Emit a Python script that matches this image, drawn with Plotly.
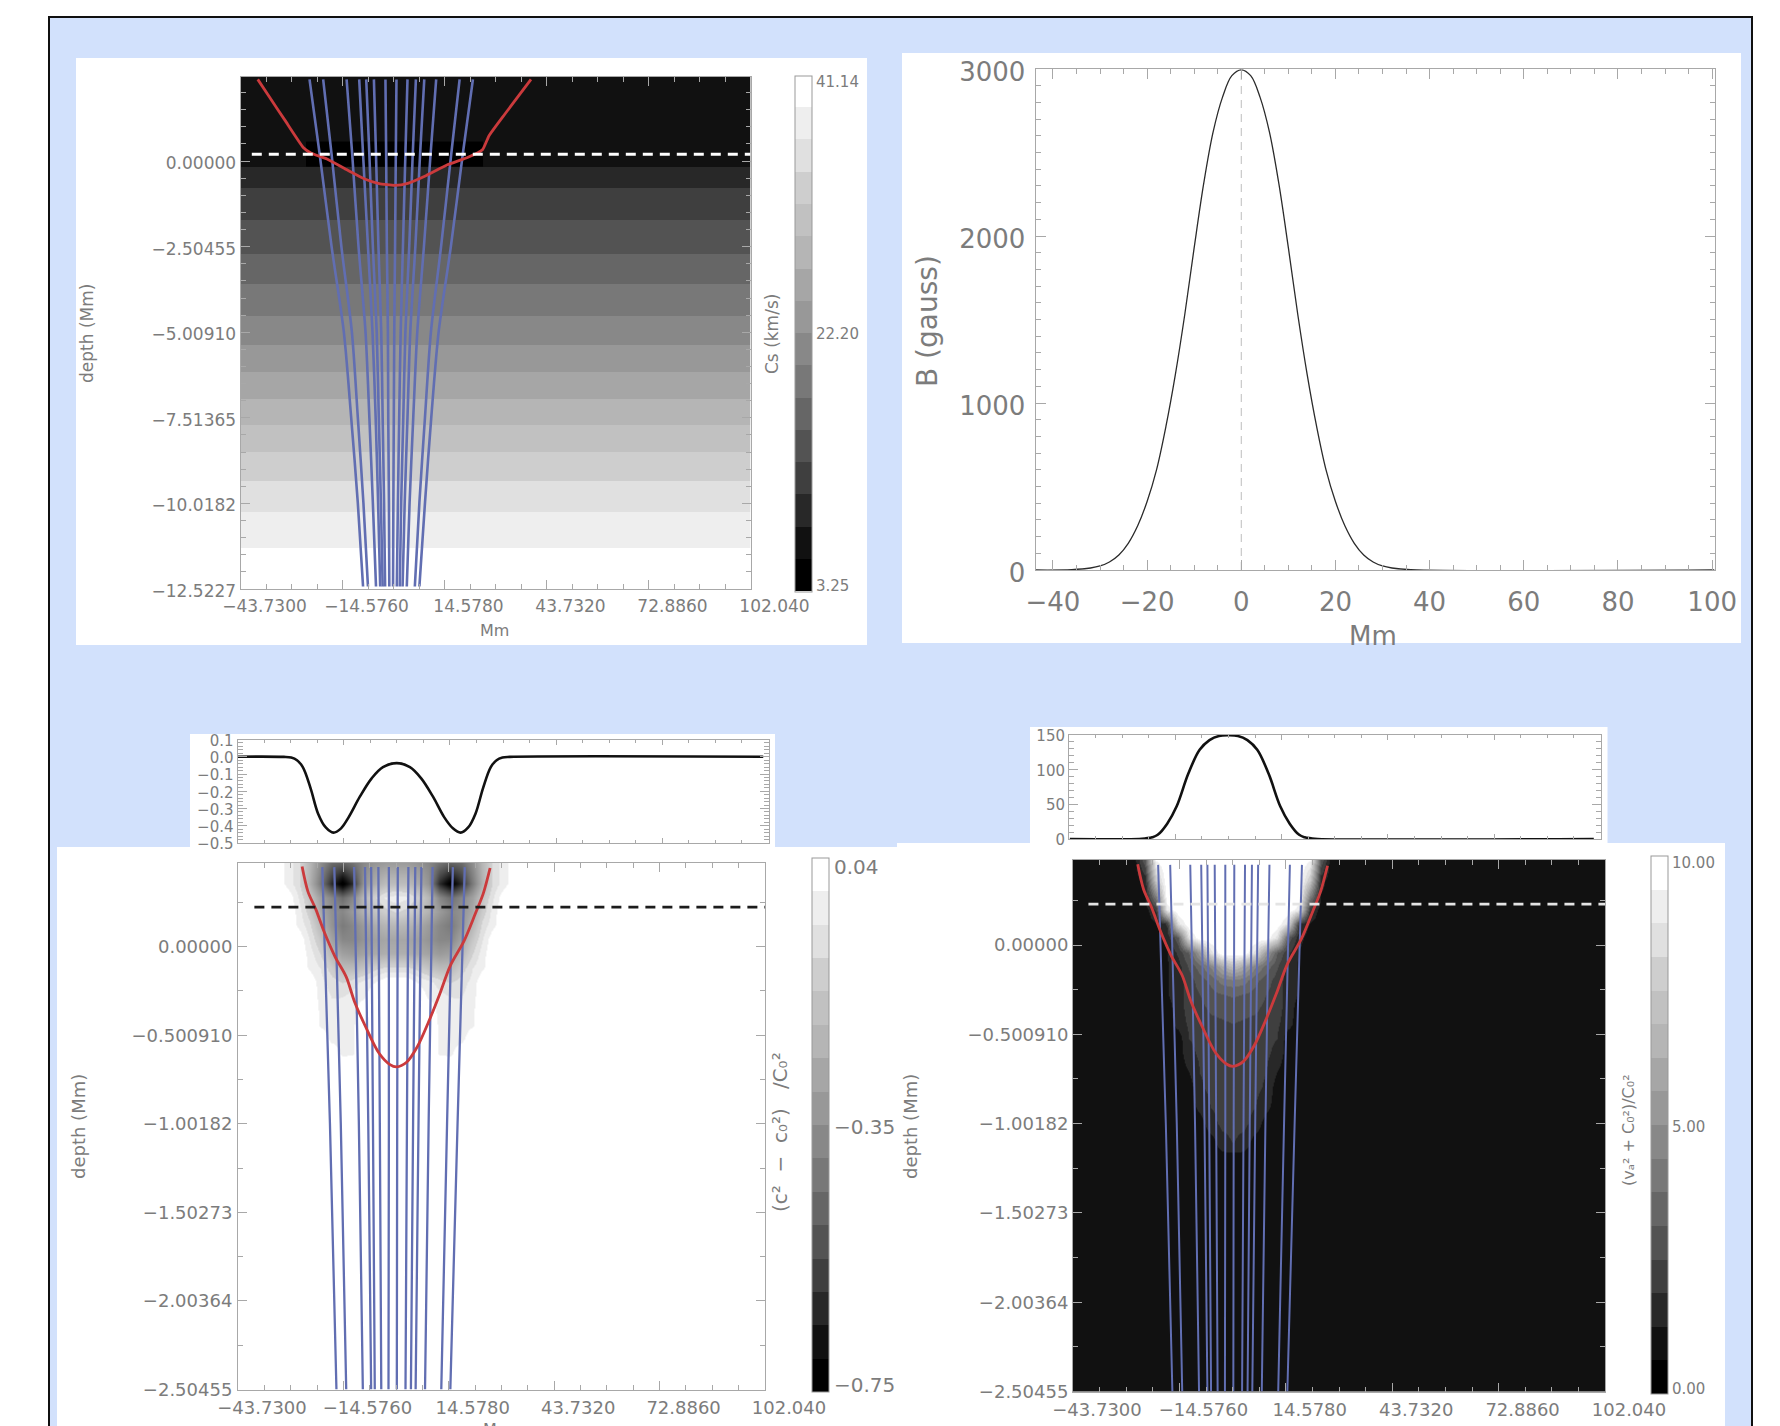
import plotly.graph_objects as go

W, H = 1780, 1426
FONT = "DejaVu Sans"
GRAY = "#7c7c7c"
AXC = "#a8a8a8"
BLUE = "#616eb2"
RED = "#cb3a3c"

# ---------------- shared tick labels
x_ticks = [-43.73, -14.576, 14.578, 43.732, 72.886, 102.04]
x_text = ["−43.7300", "−14.5760", "14.5780", "43.7320", "72.8860", "102.040"]

# ---------------- panel A: sound speed by depth
a_y_ticks = [0.0, -2.50455, -5.0091, -7.51365, -10.0182, -12.5227]
a_y_text = ["0.00000", "−2.50455", "−5.00910", "−7.51365", "−10.0182", "−12.5227"]
a_depth_edges = [2.46, -0.17, -0.80, -1.73, -2.71, -3.61, -4.52, -5.37, -6.18, -6.96, -7.72, -8.50, -9.35, -10.28, -11.32, -12.5227]
a_cs = [6.8, 9.2, 11.5, 13.9, 16.3, 18.7, 21.0, 23.4, 25.8, 28.1, 30.5, 32.9, 35.2, 37.6, 40.0]
a_x_edges = [-43.73, 102.04]
a_bump_x = [-25.0, 25.5]
a_bump_y = [-0.17, 0.57]
a_bump_cs = [[4.4]]
a_blue_depth = [2.39, 0.2, -2.5, -5.0, -7.5, -10.0, -12.45]
a_blue = [
    [-24.0, -21.1, -17.7, -14.2, -12.1, -10.2, -8.7],
    [-20.1, -17.7, -14.9, -11.9, -10.2, -8.6, -7.3],
    [-13.4, -11.8, -10.0, -8.0, -6.9, -5.9, -5.0],
    [-9.8, -8.7, -7.3, -6.0, -5.1, -4.4, -3.8],
    [-7.8, -6.9, -5.9, -4.8, -4.2, -3.6, -3.1],
    [-5.6, -5.0, -4.3, -3.5, -3.1, -2.7, -2.4],
    [-2.3, -2.1, -1.9, -1.6, -1.5, -1.3, -1.2],
    [0.85, 0.66, 0.45, 0.22, 0.09, -0.04, -0.13],
    [4.0, 3.4, 2.7, 2.05, 1.63, 1.26, 0.95],
    [6.4, 5.5, 4.5, 3.4, 2.8, 2.2, 1.8],
    [8.8, 7.6, 6.25, 4.8, 4.0, 3.2, 2.6],
    [12.2, 10.6, 8.7, 6.8, 5.65, 4.6, 3.8],
    [18.9, 16.5, 13.6, 10.7, 9.0, 7.4, 6.1],
    [22.7, 19.8, 16.4, 12.9, 10.8, 9.0, 7.4],
]
a_red_x = [-38.8, -35.5, -31.0, -25.8, -23.5, -19.0, -13.8, -8.6, -4.1, 0.4, 4.1, 9.4, 15.4, 21.3, 25.5, 27.3, 31.8, 39.3]
a_red_y = [2.39, 1.88, 1.19, 0.40, 0.23, 0.06, -0.23, -0.51, -0.66, -0.71, -0.65, -0.42, -0.11, 0.11, 0.34, 0.74, 1.37, 2.39]
a_dash_x = [-40.5, 102.04]
a_dash_y = [0.2, 0.2]

# ---------------- panel B: field profile
b_x = [-43.7, -36, -32, -30, -28, -26, -24, -22, -20, -18, -16, -14, -12, -10, -8, -6, -4, -2, 0,
       2, 4, 6, 8, 10, 12, 14, 16, 18, 20, 22, 24, 26, 28, 30, 32, 36, 100.5]
b_y = [0, 2, 12, 24, 48, 90, 160, 265, 410, 600, 860, 1170, 1530, 1930, 2310, 2620, 2830, 2960, 2995,
       2960, 2830, 2620, 2310, 1930, 1530, 1170, 860, 600, 410, 265, 160, 90, 48, 24, 12, 2, 0]

# ---------------- panels C and D: shared curves
cd_y_ticks = [0.0, -0.50091, -1.00182, -1.50273, -2.00364, -2.50455]
cd_y_text = ["0.00000", "−0.500910", "−1.00182", "−1.50273", "−2.00364", "−2.50455"]
cd_blue_depth = [0.45, -1.0, -2.50455]
cd_blue = [
    [-20.4, -18.3, -16.5], [-17.1, -15.3, -13.8], [-11.6, -10.3, -9.2], [-8.6, -7.7, -6.9],
    [-6.9, -6.4, -5.9], [-4.9, -4.5, -4.1], [-2.0, -2.0, -2.1], [0.47, 0.3, 0.2],
    [3.4, 3.0, 2.6], [5.3, 4.7, 4.1], [7.0, 6.2, 5.4], [10.1, 9.0, 8.0],
    [15.7, 14.1, 12.5], [19.0, 17.0, 15.0],
]
cd_red_x = [-26.0, -24.4, -22.2, -19.9, -16.9, -13.8, -11.5, -8.5, -4.7, -1.7, 0.15, 2.9, 5.9, 9.0, 12.0, 15.0, 18.8, 21.9, 24.1, 26.0]
cd_red_y = [0.453, 0.313, 0.211, 0.084, -0.056, -0.171, -0.311, -0.45, -0.603, -0.667, -0.68, -0.654, -0.565, -0.425, -0.272, -0.107, 0.033, 0.186, 0.30, 0.445]

# panel C image: left half of each row, |x| falling from 33 to 0
c_half_x = [-33, -30, -27, -24, -21, -18, -15, -12, -9, -6, -3, 0]
c_depth = [0.476, 0.36, 0.28, 0.20, 0.12, 0.04, -0.04, -0.12, -0.20, -0.28, -0.36, -0.44, -0.52, -0.60, -0.68]
c_half = [
    [0.04, -0.03, -0.09, -0.22, -0.36, -0.46, -0.48, -0.44, -0.38, -0.34, -0.32, -0.32],
    [0.04, -0.03, -0.09, -0.24, -0.42, -0.62, -0.75, -0.62, -0.34, -0.26, -0.20, -0.20],
    [0.04, 0.04, -0.06, -0.17, -0.30, -0.38, -0.46, -0.38, -0.22, -0.12, -0.05, -0.03],
    [0.04, 0.04, -0.03, -0.14, -0.27, -0.35, -0.38, -0.32, -0.24, -0.18, -0.13, -0.10],
    [0.04, 0.04, -0.02, -0.09, -0.22, -0.34, -0.42, -0.38, -0.32, -0.26, -0.23, -0.22],
    [0.04, 0.04, 0.04, -0.06, -0.16, -0.29, -0.38, -0.38, -0.34, -0.30, -0.28, -0.28],
    [0.04, 0.04, 0.04, -0.03, -0.11, -0.22, -0.30, -0.32, -0.29, -0.27, -0.25, -0.25],
    [0.04, 0.04, 0.04, -0.02, -0.06, -0.14, -0.21, -0.21, -0.18, -0.13, -0.10, -0.10],
    [0.04, 0.04, 0.04, 0.04, -0.04, -0.08, -0.11, -0.08, -0.04, -0.01, 0.04, 0.04],
    [0.04, 0.04, 0.04, 0.04, -0.03, -0.06, -0.06, -0.04, -0.02, 0.04, 0.04, 0.04],
    [0.04, 0.04, 0.04, 0.04, -0.02, -0.05, -0.04, -0.03, 0.04, 0.04, 0.04, 0.04],
    [0.04, 0.04, 0.04, 0.04, -0.02, -0.04, -0.04, -0.02, 0.04, 0.04, 0.04, 0.04],
    [0.04, 0.04, 0.04, 0.04, 0.04, -0.03, -0.03, -0.02, 0.04, 0.04, 0.04, 0.04],
    [0.04, 0.04, 0.04, 0.04, 0.04, 0.04, -0.025, -0.02, 0.04, 0.04, 0.04, 0.04],
    [0.04, 0.04, 0.04, 0.04, 0.04, 0.04, 0.04, 0.04, 0.04, 0.04, 0.04, 0.04],
]
c_top_x = [-43.7, -31.0, -29.0, -27.4, -25.8, -23.7, -21.6, -19.5, -17.4, -15.3, -13.2, -10.1, -6.9, -3.8, 0.0,
           3.6, 6.7, 9.9, 13.0, 15.4, 17.5, 19.6, 21.6, 23.7, 25.8, 27.4, 29.0, 31.0, 100.6]
c_top_y = [0.0, -0.001, -0.005, -0.02, -0.06, -0.18, -0.33, -0.41, -0.44, -0.415, -0.35, -0.23, -0.125, -0.06, -0.037,
           -0.06, -0.125, -0.23, -0.35, -0.415, -0.44, -0.41, -0.33, -0.18, -0.06, -0.02, -0.005, -0.001, 0.0]

# panel D image
d_half_x = [-33, -30, -27, -24, -21, -18, -15, -12, -9, -6, -3, 0]
d_depth = [0.48, 0.36, 0.28, 0.20, 0.12, 0.04, -0.04, -0.12, -0.20, -0.28, -0.36, -0.44, -0.52, -0.60, -0.70, -0.80, -0.90, -1.00, -1.10, -1.20]
d_half = [
    [0.9, 0.9, 0.9, 3.0, 9.5, 10, 10, 10, 10, 10, 10, 10],
    [0.9, 0.9, 0.9, 1.5, 7.5, 10, 10, 10, 10, 10, 10, 10],
    [0.9, 0.9, 0.9, 1.2, 4.5, 10, 10, 10, 10, 10, 10, 10],
    [0.9, 0.9, 0.9, 0.9, 2.0, 9.0, 10, 10, 10, 10, 10, 10],
    [0.9, 0.9, 0.9, 0.9, 1.2, 2.0, 8.5, 10, 10, 10, 10, 10],
    [0.9, 0.9, 0.9, 0.9, 0.9, 1.5, 3.0, 8.5, 10, 10, 10, 10],
    [0.9, 0.9, 0.9, 0.9, 0.9, 1.2, 2.0, 3.2, 5.5, 8.5, 10, 10],
    [0.9, 0.9, 0.9, 0.9, 0.9, 1.2, 1.6, 2.6, 3.5, 4.5, 6.0, 7.0],
    [0.9, 0.9, 0.9, 0.9, 0.9, 1.2, 1.6, 2.2, 2.8, 3.3, 4.0, 4.2],
    [0.9, 0.9, 0.9, 0.9, 0.9, 1.2, 1.6, 2.2, 2.5, 2.9, 3.1, 3.2],
    [0.9, 0.9, 0.9, 0.9, 0.9, 0.9, 1.6, 2.1, 2.3, 2.6, 2.7, 2.8],
    [0.9, 0.9, 0.9, 0.9, 0.9, 0.9, 1.5, 2.0, 2.2, 2.3, 2.4, 2.5],
    [0.9, 0.9, 0.9, 0.9, 0.9, 0.9, 0.9, 1.9, 2.0, 2.1, 2.2, 2.3],
    [0.9, 0.9, 0.9, 0.9, 0.9, 0.9, 0.9, 1.7, 2.0, 2.1, 2.1, 2.2],
    [0.9, 0.9, 0.9, 0.9, 0.9, 0.9, 0.9, 1.3, 1.9, 2.0, 2.1, 2.1],
    [0.9, 0.9, 0.9, 0.9, 0.9, 0.9, 0.9, 0.9, 1.8, 2.0, 2.0, 2.1],
    [0.9, 0.9, 0.9, 0.9, 0.9, 0.9, 0.9, 0.9, 1.5, 1.9, 2.0, 2.0],
    [0.9, 0.9, 0.9, 0.9, 0.9, 0.9, 0.9, 0.9, 0.9, 1.7, 2.0, 2.0],
    [0.9, 0.9, 0.9, 0.9, 0.9, 0.9, 0.9, 0.9, 0.9, 0.9, 1.7, 1.9],
    [0.9, 0.9, 0.9, 0.9, 0.9, 0.9, 0.9, 0.9, 0.9, 0.9, 0.9, 0.9],
]
d_top_x = [-43.5, -24.5, -22.6, -20.9, -19.4, -16.8, -14.2, -11.0, -7.9, -5.2, -2.6, 0.0, 2.6, 5.2, 7.9, 11.0, 14.2, 16.8, 19.4, 20.9, 22.6, 24.5, 100.2]
d_top_y = [0, 0, 1, 2.5, 6, 22, 47, 94, 128, 142, 148, 149, 148, 142, 128, 94, 47, 22, 6, 2.5, 1, 0, 0]

bar_a_vals = [3.65, 22.2, 40.7]
bar_a_text = ["3.25", "22.20", "41.14"]
bar_c_vals = [-0.74, -0.358, 0.0267]
bar_c_text = ["−0.75", "−0.35", "0.04"]
bar_d_vals = [0.1, 4.97, 9.87]
bar_d_text = ["0.00", "5.00", "10.00"]

gray_ramp = [0, 17, 40, 63, 83, 102, 120, 136, 152, 166, 181, 193, 206, 224, 238, 255]


# ---------------- helpers
def px(x):
    return x / W


def py(y):
    return 1 - y / H


def mirrored(rows):
    return [r + r[-2::-1] for r in rows]


def full_x(half):
    return half + [-v for v in half[-2::-1]]


def gray(g):
    return f"rgb({g},{g},{g})"


LEVELS = len(gray_ramp)
steps = []
for i, g in enumerate(gray_ramp):
    steps += [[i / LEVELS, gray(g)], [(i + 1) / LEVELS, gray(g)]]
# blended through the dark levels, stepped through the three lightest
blend = [[(i + 0.5) / LEVELS, gray(g)] for i, g in enumerate(gray_ramp[:13])]
blend = [[0, gray(0)]] + blend + [[13 / LEVELS, gray(206)]]
for i, g in zip((13, 14, 15), gray_ramp[13:]):
    blend += [[i / LEVELS, gray(g)], [(i + 1) / LEVELS, gray(g)]]


def axis(box, anchor, rng, size, **kw):
    horizontal = anchor.startswith("y")
    dom = [px(box[0]), px(box[2])] if horizontal else [py(box[3]), py(box[1])]
    d = dict(domain=dom, anchor=anchor, range=rng, showgrid=False, zeroline=False,
             showline=True, linecolor=AXC, linewidth=1, mirror="allticks",
             ticks="inside", tickcolor=AXC, ticklen=9, tickwidth=1,
             tickfont=dict(family=FONT, size=size, color=GRAY))
    d.update(kw)
    return d


def minor(tick0, dtick, ln=5):
    return dict(ticks="inside", ticklen=ln, tickcolor=AXC, tickwidth=1, tick0=tick0, dtick=dtick, showgrid=False)


def note(text, x, y, size, angle=0):
    return dict(text=text, xref="paper", yref="paper", x=px(x), y=py(y), showarrow=False,
                xanchor="center", yanchor="middle", textangle=angle,
                font=dict(family=FONT, size=size, color=GRAY))


def rect(x0, y0, x1, y1, fill, line=None, lw=0):
    return dict(type="rect", xref="paper", yref="paper", layer="below",
                x0=px(x0), x1=px(x1), y0=py(y1), y1=py(y0), fillcolor=fill,
                line=dict(color=line or fill, width=lw))


def cbar(x0, y0, x1, y1, vals, text, size):
    return dict(x=px(x0), xref="paper", xanchor="left", xpad=0, y=py(y1), yref="paper", yanchor="bottom", ypad=0,
                thicknessmode="pixels", thickness=x1 - x0, lenmode="pixels", len=y1 - y0,
                tickmode="array", tickvals=vals, ticktext=text, ticks="",
                tickfont=dict(family=FONT, size=size, color=GRAY),
                outlinecolor="#999999", outlinewidth=1)


def add_lines(fig, xs, y, ax, width):
    for line in xs:
        fig.add_trace(go.Scatter(x=line, y=y, mode="lines", xaxis=ax[0], yaxis=ax[1], showlegend=False,
                                 hoverinfo="skip", line=dict(color=BLUE, width=width, shape="spline", smoothing=0.8)))


def add_red(fig, x, y, ax, smoothing):
    fig.add_trace(go.Scatter(x=x, y=y, mode="lines", xaxis=ax[0], yaxis=ax[1], showlegend=False,
                             hoverinfo="skip", line=dict(color=RED, width=2.8, shape="spline", smoothing=smoothing)))


def add_dash(fig, x, y, ax, color):
    fig.add_trace(go.Scatter(x=x, y=y, mode="lines", xaxis=ax[0], yaxis=ax[1], showlegend=False,
                             hoverinfo="skip", line=dict(color=color, width=2.8, dash="10px,7px")))


fig = go.Figure()

# panel A
fig.add_trace(go.Heatmap(x=a_x_edges, y=a_depth_edges, z=[[v] for v in a_cs], zmin=3.25, zmax=41.14,
                         colorscale=steps, xaxis="x", yaxis="y", hoverinfo="skip",
                         colorbar=cbar(795, 75.5, 812, 591.5, bar_a_vals, bar_a_text, 15)))
fig.add_trace(go.Heatmap(x=a_bump_x, y=a_bump_y, z=a_bump_cs, zmin=3.25, zmax=41.14, colorscale=steps,
                         xaxis="x", yaxis="y", showscale=False, hoverinfo="skip"))
add_lines(fig, a_blue, a_blue_depth, ("x", "y"), 2.6)
add_red(fig, a_red_x, a_red_y, ("x", "y"), 0.4)
add_dash(fig, a_dash_x, a_dash_y, ("x", "y"), "#ffffff")

# panel B
fig.add_trace(go.Scatter(x=b_x, y=b_y, mode="lines", xaxis="x2", yaxis="y2", showlegend=False, hoverinfo="skip",
                         line=dict(color="#2b2b2b", width=1.3, shape="spline", smoothing=1.0)))
fig.add_trace(go.Scatter(x=[0, 0], y=[0, 3000], mode="lines", xaxis="x2", yaxis="y2", showlegend=False,
                         hoverinfo="skip", line=dict(color="#bdbdbd", width=1, dash="8px,6px")))

# panel C: the image blends softly, its colour bar shows the stepped table
fig.add_trace(go.Heatmap(x=full_x(c_half_x), y=c_depth, z=mirrored(c_half), zmin=-0.75, zmax=0.04,
                         colorscale=blend, zsmooth="best", xaxis="x3", yaxis="y3", hoverinfo="skip", showscale=False))
fig.add_trace(go.Scatter(x=[None], y=[None], mode="markers", xaxis="x3", yaxis="y3", showlegend=False, hoverinfo="skip",
                         marker=dict(color=[0.04], cmin=-0.75, cmax=0.04, colorscale=steps, showscale=True,
                                     colorbar=cbar(811.5, 858.5, 828, 1392, bar_c_vals, bar_c_text, 20))))
add_lines(fig, cd_blue, cd_blue_depth, ("x3", "y3"), 2.3)
add_red(fig, cd_red_x, cd_red_y, ("x3", "y3"), 0.9)
add_dash(fig, [-39.2, 102.04], [0.224, 0.224], ("x3", "y3"), "#1c1c1c")

# panel C top
fig.add_trace(go.Scatter(x=c_top_x, y=c_top_y, mode="lines", xaxis="x4", yaxis="y4", showlegend=False,
                         hoverinfo="skip", line=dict(color="#111111", width=2.6, shape="spline", smoothing=1.0)))

# panel D
fig.add_trace(go.Heatmap(x=full_x(d_half_x), y=d_depth, z=mirrored(d_half), zmin=0, zmax=10,
                         colorscale=steps, zsmooth="best", xaxis="x5", yaxis="y5", hoverinfo="skip",
                         colorbar=cbar(1651, 856, 1668, 1394, bar_d_vals, bar_d_text, 15)))
add_lines(fig, cd_blue, cd_blue_depth, ("x5", "y5"), 2.0)
add_red(fig, cd_red_x, cd_red_y, ("x5", "y5"), 0.9)
add_dash(fig, [-39.5, 102.04], [0.23, 0.23], ("x5", "y5"), "#e4e4e4")

# panel D top
fig.add_trace(go.Scatter(x=d_top_x, y=d_top_y, mode="lines", xaxis="x6", yaxis="y6", showlegend=False,
                         hoverinfo="skip", line=dict(color="#111111", width=2.6, shape="spline", smoothing=1.0)))

X_RANGE = [-43.73, 102.04]
xcommon = dict(tickmode="array", tickvals=x_ticks, ticktext=x_text, minor=minor(-43.73, 7.2885), ticklabelshift=24,
               ticklabelstandoff=2)

layout = dict(
    width=W, height=H, autosize=False, margin=dict(l=0, r=0, t=0, b=0, pad=0, autoexpand=False),
    paper_bgcolor="#ffffff", plot_bgcolor="rgba(0,0,0,0)", showlegend=False,
    xaxis=axis((240.5, 77, 750.5, 589), "y", X_RANGE, 17, **xcommon),
    yaxis=axis((240.5, 77, 750.5, 589), "x", [-12.5227, 2.46], 17, tickmode="array",
               tickvals=a_y_ticks, ticktext=a_y_text, minor=minor(0, 0.50091), ticklabelshift=2),
    xaxis2=axis((1035.5, 69, 1714.5, 570), "y2", [-43.7, 100.5], 26, tickmode="array",
                tickvals=[-40, -20, 0, 20, 40, 60, 80, 100],
                ticktext=["−40", "−20", "0", "20", "40", "60", "80", "100"], minor=minor(0, 5), ticklen=10,
                ticklabelstandoff=9),
    yaxis2=axis((1035.5, 69, 1714.5, 570), "x2", [0, 3000], 26, tickmode="array",
                tickvals=[0, 1000, 2000, 3000], ticktext=["0", "1000", "2000", "3000"],
                minor=minor(0, 100), ticklen=10, ticklabelshift=3, ticklabelstandoff=4),
    xaxis3=axis((238, 862.5, 765, 1389.5), "y3", X_RANGE, 18, **xcommon),
    yaxis3=axis((238, 862.5, 765, 1389.5), "x3", [-2.50455, 0.476], 18, tickmode="array",
                tickvals=cd_y_ticks, ticktext=cd_y_text, minor=minor(0, 0.250455), ticklabelstandoff=1),
    xaxis4=dict(axis((237.5, 739.5, 768.5, 843), "y4", X_RANGE, 15, tickmode="array", tickvals=x_ticks,
                     showticklabels=False, minor=minor(-43.73, 7.2885, 3), ticklen=5)),
    yaxis4=axis((237.5, 739.5, 768.5, 843), "x4", [-0.5, 0.1], 15, tickmode="array",
                tickvals=[0.1, 0.0, -0.1, -0.2, -0.3, -0.4, -0.5],
                ticktext=["0.1", "0.0", "−0.1", "−0.2", "−0.3", "−0.4", "−0.5"],
                minor=minor(0, 0.02, 5), ticklen=9, ticklabelshift=1),
    xaxis5=axis((1073, 859.5, 1605, 1391.5), "y5", X_RANGE, 18, **xcommon),
    yaxis5=axis((1073, 859.5, 1605, 1391.5), "x5", [-2.50455, 0.48], 18, tickmode="array",
                tickvals=cd_y_ticks, ticktext=cd_y_text, minor=minor(0, 0.250455)),
    xaxis6=axis((1069, 734.5, 1600.5, 839), "y6", X_RANGE, 15, tickmode="array", tickvals=x_ticks,
                showticklabels=False, minor=minor(-43.73, 7.2885, 3), ticklen=5),
    yaxis6=axis((1069, 734.5, 1600.5, 839), "x6", [0, 150], 15, tickmode="array",
                tickvals=[0, 50, 100, 150], ticktext=["0", "50", "100", "150"],
                minor=minor(0, 10, 5), ticklen=9, ticklabelshift=1),
    shapes=[
        rect(49, 17, 1752, 1440, "#d2e1fc", "#101010", 2),
        rect(76, 58, 867, 645, "#ffffff"),
        rect(902, 53, 1741, 643, "#ffffff"),
        rect(190, 734, 775, 848, "#ffffff"),
        rect(57, 847, 897, 1430, "#ffffff"),
        rect(1030, 727, 1607.5, 844, "#ffffff"),
        rect(897, 843, 1725, 1430, "#ffffff"),
        rect(1073, 859.5, 1605, 1391.5, "#111111"),
    ],
    annotations=[
        note("depth (Mm)", 87, 334, 17, -90),
        note("Mm", 494, 630, 16),
        note("Cs (km/s)", 772, 334, 17, -90),
        note("B (gauss)", 927, 321, 28, -90),
        note("Mm", 1373, 636, 26),
        note("depth (Mm)", 78, 1127, 18, -90),
        note("Mm", 497, 1429, 16),
        note("(c²  −  c₀²)   /C₀²", 780, 1132, 20, -90),
        note("depth (Mm)", 910, 1127, 18, -90),
        note("(vₐ² + C₀²)/C₀²", 1628, 1130, 16, -90),
    ],
)
fig.update_layout(**layout)
fig.write_html("out.html", config={"displayModeBar": False}, post_script="document.body.style.margin='0';")
